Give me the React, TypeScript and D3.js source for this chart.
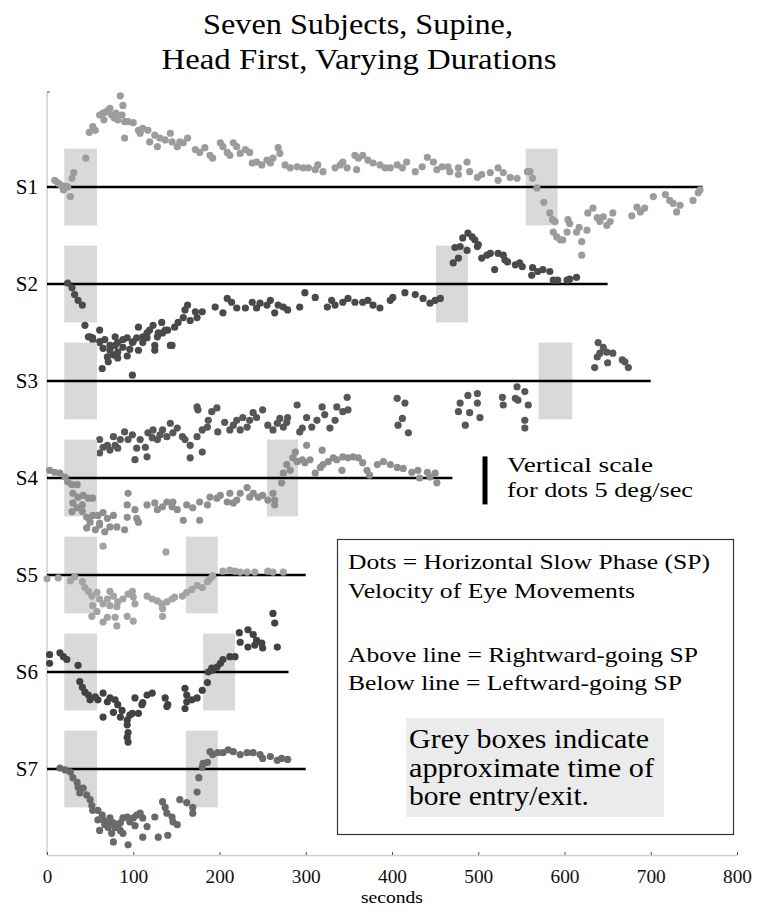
import React from "react";
import * as d3 from "d3";

// subjects, where each line ends (s) and when each one left the bore (s)
const subjects = ["S1", "S2", "S3", "S4", "S5", "S6", "S7"];
const lineEnds = [760, 650, 700, 470, 300, 280, 300];
const entryBox = [20, 58];
const exitBoxes = [
  [555, 592], [451, 488], [570, 609], [255, 291], [161, 198], [181, 218], [161, 198],
];
const xTicks = [0, 100, 200, 300, 400, 500, 600, 700, 800];

// slow phase velocity dots, [seconds, deg/sec]
const s1 = [
  [9, 0.7], [13, 0.4], [16, 0.2], [19, -0.3], [22, 0.1], [24, 0], [27, -1.0], [29, 0.9], [31, 1.5], [45, 3.0],
  [49, 5.7], [53, 6.3], [56, 5.9], [61, 7.5], [65, 7.7], [68, 7.8], [71, 8.0], [73, 8.2], [66, 7.0], [75, 7.5],
  [78, 7.2], [80, 7.7], [82, 7.0], [87, 7.5], [90, 6.8], [85, 9.5], [88, 8.5], [90, 5.1], [94, 6.8], [100, 6.7],
  [106, 5.9], [108, 5.6], [111, 6.1], [117, 5.9], [119, 4.7], [125, 5.4], [128, 4.2], [131, 5.1], [137, 4.9], [143, 5.6],
  [145, 4.7], [151, 4.2], [154, 4.7], [158, 4.6], [163, 5.1], [172, 3.9], [177, 3.6], [183, 4.1], [189, 3.3], [192, 3.0],
  [201, 4.6], [204, 4.2], [209, 3.6], [212, 3.3], [216, 4.6], [220, 4.2], [224, 3.5], [230, 3.9], [235, 3.6], [238, 2.5],
  [243, 2.6], [249, 2.3], [255, 2.8], [259, 2.5], [262, 3.0], [268, 4.1], [270, 3.5], [276, 2.3], [282, 2.0], [290, 2.1],
  [297, 2.0], [303, 2.0], [311, 1.8], [314, 2.3], [320, 1.6], [334, 2.0], [340, 2.3], [343, 2.6], [348, 2.0], [357, 3.3],
  [361, 3.0], [366, 3.3], [372, 2.8], [359, 1.8], [378, 2.5], [386, 2.3], [392, 2.0], [398, 2.0], [406, 2.3], [412, 2.0],
  [417, 2.6], [427, 1.6], [435, 2.1], [441, 3.1], [448, 2.6], [452, 1.8], [458, 2.1], [465, 2.1], [467, 1.6], [477, 2.0],
  [477, 1.3], [487, 2.6], [490, 1.6], [499, 1.0], [504, 1.3], [514, 1.5], [523, 2.0], [523, 0.7], [529, 1.5], [537, 1.0],
  [545, 0.9], [557, 1.6], [560, 1.6], [563, 0.9], [568, -0.1], [576, -1.6], [583, -2.7], [586, -3.4], [589, -3.6], [587, -4.7],
  [591, -5.2], [595, -5.5], [598, -5.5], [603, -4.7], [604, -3.4], [606, -3.8], [614, -4.7], [617, -4.2], [620, -5.7], [620, -7.1],
  [626, -4.5], [627, -2.7], [633, -2.2], [638, -3.2], [641, -3.6], [645, -3.1], [649, -4.0], [653, -3.6], [656, -2.7], [678, -3.0],
  [684, -2.1], [688, -2.6], [693, -2.2], [703, -1.0], [717, -0.8], [722, -1.4], [726, -1.7], [730, -2.6], [734, -1.9], [749, -1.4],
  [755, -0.6], [757, -0.3],
];
const s2 = [
  [24, 0.1], [29, -0.4], [32, -1.1], [36, -1.7], [41, -2.2], [44, -4.3], [50, -5.5], [53, -5.6], [61, -4.8], [61, -6.0],
  [67, -5.8], [73, -6.4], [79, -5.5], [82, -6.1], [88, -5.8], [93, -5.6], [99, -6.1], [104, -5.6], [106, -4.5], [111, -5.5],
  [116, -5.1], [119, -4.8], [123, -4.3], [125, -6.4], [129, -5.1], [133, -4.0], [137, -4.8], [140, -4.8], [145, -6.4], [148, -4.5],
  [152, -4.0], [158, -3.5], [160, -2.7], [163, -2.2], [166, -3.8], [172, -2.9], [174, -3.5], [180, -2.9], [195, -2.4], [204, -3.0],
  [209, -1.5], [214, -1.9], [220, -2.5], [230, -2.5], [238, -1.9], [243, -2.5], [247, -2.0], [255, -2.2], [259, -1.7], [264, -3.0],
  [268, -2.2], [274, -2.4], [279, -2.7], [293, -2.4], [299, -0.9], [311, -1.4], [325, -2.4], [330, -1.7], [334, -2.2], [343, -1.9],
  [349, -1.5], [357, -1.9], [366, -1.9], [372, -1.7], [378, -2.2], [386, -2.5], [398, -1.7], [401, -1.4], [415, -0.9], [427, -1.1],
  [436, -1.5], [444, -2.0], [450, -1.7], [456, -1.5], [471, 2.2], [473, 3.8], [477, 2.7], [479, 3.9], [482, 4.8], [487, 3.5],
  [488, 5.3], [493, 4.9], [496, 4.6], [499, 3.9], [500, 4.1], [504, 2.7], [510, 3.0], [514, 3.2], [519, 1.5], [523, 3.2],
  [529, 3.0], [531, 2.5], [534, 2.3], [543, 2.0], [548, 2.2], [551, 1.8], [562, 0.9], [563, 1.7], [569, 1.3], [575, 1.5],
  [583, 1.3], [587, 0.4], [592, 0.4], [603, 0.4], [606, 0.5], [614, 0.7],
  [48, -5.5], [53, -5.8], [61, -6.1], [65, -6.7], [70, -7.6], [73, -6.9], [79, -6.4], [82, -7.1], [88, -6.6], [93, -7.5],
  [96, -6.8], [100, -6.0], [106, -6.9], [111, -6.1], [116, -5.6], [125, -6.9], [128, -5.5], [134, -5.1], [143, -6.4], [64, -8.8],
  [99, -9.5], [71, -8.1], [82, -7.7], [77, -7.4],
];
const s3 = [
  [61, -6.1], [65, -6.9], [61, -7.5], [70, -6.7], [73, -7.2], [77, -5.8], [79, -6.7], [82, -7.0], [85, -6.1], [90, -5.3],
  [94, -6.1], [99, -5.6], [102, -8.2], [104, -7.0], [108, -6.1], [114, -6.9], [116, -7.9], [117, -5.4], [122, -5.9], [123, -5.1],
  [128, -6.1], [131, -5.6], [134, -5.1], [139, -5.8], [143, -4.4], [146, -5.4], [151, -4.9], [157, -5.8], [160, -6.1], [166, -8.0],
  [166, -6.7], [174, -2.7], [175, -3.0], [174, -5.8], [180, -7.4], [180, -5.1], [186, -4.8], [187, -4.1], [191, -3.2], [197, -2.8],
  [198, -5.3], [206, -4.3], [212, -5.1], [216, -4.6], [220, -4.1], [224, -5.1], [227, -3.8], [232, -4.8], [235, -4.1], [239, -3.3],
  [243, -3.8], [250, -3.0], [256, -4.6], [262, -5.1], [267, -4.4], [270, -3.9], [274, -4.8], [278, -4.3], [279, -3.8], [290, -2.5],
  [293, -5.3], [296, -4.9], [301, -3.8], [307, -4.8], [313, -4.1], [319, -2.7], [322, -3.5], [328, -4.9], [334, -4.1], [336, -2.7],
  [343, -3.2], [348, -1.7], [349, -3.0], [406, -1.8], [415, -2.3], [412, -3.9], [407, -4.6], [419, -5.4], [479, -2.3], [488, -1.5],
  [499, -1.3], [499, -2.3], [477, -3.2], [490, -3.3], [502, -3.8], [485, -4.6], [528, -1.7], [529, -2.5], [545, -0.6], [554, -1.1],
  [543, -1.8], [546, -2.0], [558, -2.5], [554, -4.1], [554, -4.9], [639, 4.0], [645, 3.5], [641, 2.9], [638, 2.5], [649, 3.0],
  [656, 2.9], [650, 1.9], [635, 1.4], [667, 2.2], [670, 2.0], [674, 1.4],
];
const s4 = [
  [3, 0.8], [9, 0.6], [15, 0.5], [21, 0.1], [24, -0.4], [29, -0.7], [35, -0.7], [30, -1.6], [36, -2.0], [42, -1.8],
  [48, -2.1], [53, -2.1], [30, -2.6], [35, -3.1], [41, -2.8], [29, -3.5], [41, -3.5], [46, -4.1], [53, -3.9], [59, -3.9],
  [65, -3.6], [70, -4.2], [77, -3.9], [50, -4.6], [61, -4.7], [73, -5.1], [81, -5.1], [94, -1.6], [93, -2.8], [102, -3.3],
  [93, -4.1], [104, -4.2], [116, -2.8], [125, -2.6], [128, -3.3], [134, -3.0], [139, -2.5], [145, -3.0], [146, -2.5], [151, -3.3],
  [158, -4.4], [162, -2.8], [169, -3.1], [177, -2.5], [177, -4.4], [186, -2.8], [189, -2.0], [197, -2.1], [201, -1.8], [209, -2.5],
  [212, -1.6], [216, -2.6], [220, -2.3], [224, -1.6], [232, -1.0], [235, -2.0], [239, -1.6], [245, -2.0], [250, -1.8], [256, -2.3],
  [262, -1.6], [264, -2.8], [264, -2.3], [272, -0.5], [274, 0.5], [278, 1.4], [282, 0.8], [285, 2.1], [288, 2.7], [290, 1.7],
  [296, 1.9], [299, 1.6], [301, 3.4], [305, 1.9], [311, 0.5], [317, 1.1], [320, 1.4], [319, 2.9], [326, 1.7], [332, 2.1],
  [336, 1.9], [342, 0.8], [343, 2.2], [349, 2.1], [355, 2.2], [361, 2.1], [366, 1.6], [371, 0.8], [374, 0.3], [383, 1.4],
  [390, 1.7], [398, 1.4], [406, 1.1], [413, 1.0], [423, 0.6], [430, 0.8], [432, 0.0], [441, 0.6], [444, 0.1], [450, 0.5],
  [452, -0.5], [46, -5.2], [61, -4.9], [90, -5.4], [106, -4.6], [56, -5.4], [67, -5.6],
];
const s5 = [
  [0, -0.4], [13, -0.3], [27, -0.6], [32, -0.2], [41, -0.7], [44, -1.3], [48, -1.7], [52, -2.2], [58, -1.8], [61, -2.5],
  [53, -3.2], [65, -3.0], [70, -2.5], [73, -1.7], [77, -2.2], [82, -2.8], [88, -2.5], [94, -2.0], [99, -1.7], [100, -2.3],
  [102, -3.0], [73, -3.2], [81, -3.3], [58, -3.8], [52, -4.3], [70, -4.4], [79, -4.4], [93, -4.3], [100, -4.8], [81, -5.3],
  [65, -4.9], [116, -2.2], [122, -2.5], [128, -2.7], [133, -3.0], [134, -3.5], [139, -2.8], [134, -4.3], [145, -2.5], [148, -2.3],
  [157, -2.2], [162, -1.8], [168, -1.5], [174, -1.1], [180, -1.3], [186, -0.7], [189, -0.4], [192, -0.1], [204, 0.4], [212, 0.5],
  [218, 0.4], [224, 0.3], [232, 0.3], [241, 0.3], [256, 0.4], [262, 0.3], [274, 0.3], [65, 3.0], [138, 2.4],
];
const s6 = [
  [3, 1.8], [3, 0.9], [15, 2.0], [19, 1.6], [23, 1.3], [36, 0.7], [38, -1.0], [41, -1.6], [44, -2.1], [48, -2.4],
  [50, -2.9], [56, -2.6], [59, -2.9], [65, -2.2], [70, -3.1], [73, -2.7], [79, -2.9], [82, -3.4], [87, -4.0], [65, -4.7],
  [77, -4.2], [85, -4.7], [93, -5.0], [99, -4.3], [102, -2.7], [106, -4.3], [111, -3.2], [116, -2.4], [122, -2.2], [137, -2.7],
  [140, -3.4], [160, -1.7], [162, -2.4], [162, -3.1], [160, -3.8], [168, -2.9], [174, -2.7], [180, -1.9], [186, -1.1], [187, 0.0],
  [192, 0.2], [197, 0.5], [201, 0.9], [204, 1.3], [212, 1.6], [218, 1.6], [223, 4.1], [224, 3.1], [233, 4.4], [239, 3.9],
  [233, 2.6], [241, 2.8], [243, 3.3], [249, 3.0], [250, 2.5], [262, 6.1], [264, 5.1], [267, 2.6], [96, -4.5], [93, -5.5],
  [94, -6.3], [93, -6.8], [94, -7.3], [110, -3.4], [139, -3.6], [191, 0.4],
];
const s7 = [
  [15, 0.1], [21, -0.1], [27, -0.3], [30, -0.9], [35, -1.4], [36, -1.9], [42, -2.0], [38, -2.5], [46, -2.7], [50, -3.2],
  [52, -3.8], [53, -4.3], [59, -4.3], [64, -4.8], [59, -5.3], [65, -5.3], [70, -5.6], [73, -5.1], [77, -5.6], [71, -6.1],
  [75, -6.7], [79, -6.1], [85, -5.6], [88, -5.1], [93, -5.0], [96, -5.5], [100, -5.1], [104, -4.8], [108, -4.6], [111, -5.1],
  [116, -6.0], [85, -6.4], [88, -6.7], [77, -7.6], [94, -7.9], [111, -7.1], [129, -7.1], [140, -6.9], [125, -5.0], [134, -3.4],
  [137, -4.0], [139, -4.6], [145, -5.0], [146, -5.5], [151, -5.8], [154, -3.2], [162, -3.5], [169, -4.0], [169, -4.6], [174, -2.4],
  [176, -0.9], [180, 0.2], [181, 0.6], [186, 0.7], [189, 1.8], [192, 1.5], [198, 1.7], [204, 1.7], [210, 2.0], [216, 1.8],
  [224, 1.5], [232, 1.7], [239, 1.7], [247, 1.5], [250, 1.1], [259, 1.3], [267, 0.9], [272, 1.1], [279, 1.0], [67, -5.8],
  [82, -6.1], [102, -5.9], [61, -6.4],
];
const dotSets = [s1, s2, s3, s4, s5, s6, s7];
const dotColors = ["#9c9c9c", "#4a4a4a", "#575757", "#8f8f8f", "#a3a3a3", "#424242", "#696969"];

const legendLines = [
  "Dots = Horizontal Slow Phase (SP)",
  "Velocity of Eye Movements",
  "Above line = Rightward-going SP",
  "Below line = Leftward-going SP",
];
const boxNote = ["Grey boxes indicate", "approximate time of", "bore entry/exit."];

const W = 757;
const H = 912;
const serif = "Liberation Serif, Times New Roman, serif";

export default function App() {
  const x = d3.scaleLinear().domain([0, 800]).range([47, 737]);
  const row = d3.scalePoint<string>().domain(subjects).range([187, 769]);
  // 5 deg/sec = 48 px
  const v = d3.scaleLinear().domain([-5, 5]).range([48, -48]);
  const axisY = 855;

  const axisRef = React.useRef<SVGGElement>(null);
  React.useEffect(() => {
    const g = d3.select(axisRef.current);
    g.selectAll("*").remove();
    g.call(
      d3.axisBottom(x).tickValues(xTicks).tickSizeInner(-3).tickSizeOuter(0).tickPadding(15).tickFormat(d3.format("d"))
    );
    g.attr("font-family", serif).attr("font-size", 19);
    g.select(".domain").attr("stroke", "#cfcfcf").attr("stroke-width", 1.5);
    g.selectAll(".tick line").attr("stroke", "#555").attr("stroke-width", 1);
    g.selectAll(".tick text").attr("fill", "#111").attr("textLength", 29).attr("lengthAdjust", "spacingAndGlyphs");
    g.selectAll(".tick text").filter((d: any) => d === 0).attr("textLength", null);
  }, []);

  return (
    <svg width={W} height={H} style={{ position: "absolute", left: 0, top: 0, background: "#fff" }}>
      <text x={358} y={34} textAnchor="middle" fontFamily={serif} fontSize={29} textLength={310} lengthAdjust="spacingAndGlyphs">
        Seven Subjects, Supine,
      </text>
      <text x={359} y={69} textAnchor="middle" fontFamily={serif} fontSize={29} textLength={395} lengthAdjust="spacingAndGlyphs">
        Head First, Varying Durations
      </text>

      {/* y axis */}
      <line x1={x(0)} x2={x(0)} y1={92} y2={axisY} stroke="#cfcfcf" strokeWidth={1.5} />
      <line x1={x(0)} x2={x(0) + 3} y1={92} y2={92} stroke="#555" />

      {subjects.map((s, i) => {
        const y0 = row(s)!;
        return (
          <g key={s}>
            {[entryBox, exitBoxes[i]].map((b, j) => (
              <rect key={j} x={x(b[0])} width={x(b[1]) - x(b[0])} y={y0 + v(4)} height={v(-4) - v(4)} fill="#d9d9d9" />
            ))}
            <line x1={x(0)} x2={x(lineEnds[i])} y1={y0} y2={y0} stroke="#000" strokeWidth={2.5} />
            <text x={38} y={y0 + 7} textAnchor="end" fontFamily={serif} fontSize={21}>
              {s}
            </text>
            {dotSets[i].map((d, k) => (
              <circle key={k} cx={x(d[0])} cy={y0 + v(d[1])} r={3.6} fill={dotColors[i]} />
            ))}
          </g>
        );
      })}

      <g ref={axisRef} transform={`translate(0,${axisY})`} />
      <text x={x(400)} y={903} textAnchor="middle" fontFamily={serif} fontSize={17} textLength={62} lengthAdjust="spacingAndGlyphs">
        seconds
      </text>

      {/* vertical scale bar, 5 deg/sec */}
      <line x1={485} x2={485} y1={row("S4")! + v(2.25)} y2={row("S4")! + v(-2.75)} stroke="#000" strokeWidth={5} />
      <text x={507} y={472} fontFamily={serif} fontSize={22} textLength={146} lengthAdjust="spacingAndGlyphs">
        Vertical scale
      </text>
      <text x={507} y={497} fontFamily={serif} fontSize={22} textLength={186} lengthAdjust="spacingAndGlyphs">
        for dots 5 deg/sec
      </text>

      {/* legend box */}
      <rect x={337.5} y={539.5} width={396} height={295} fill="none" stroke="#333" strokeWidth={1.2} />
      {legendLines.map((t, i) => (
        <text
          key={t}
          x={348}
          y={[569, 598, 662, 690][i]}
          fontFamily={serif}
          fontSize={22}
          textLength={[362, 287, 350, 334][i]}
          lengthAdjust="spacingAndGlyphs"
        >
          {t}
        </text>
      ))}
      <rect x={406} y={718} width={258} height={99} fill="#ebebeb" />
      {boxNote.map((t, i) => (
        <text
          key={t}
          x={409}
          y={[748, 777, 805][i]}
          fontFamily={serif}
          fontSize={28}
          textLength={[240, 245, 180][i]}
          lengthAdjust="spacingAndGlyphs"
        >
          {t}
        </text>
      ))}
    </svg>
  );
}
